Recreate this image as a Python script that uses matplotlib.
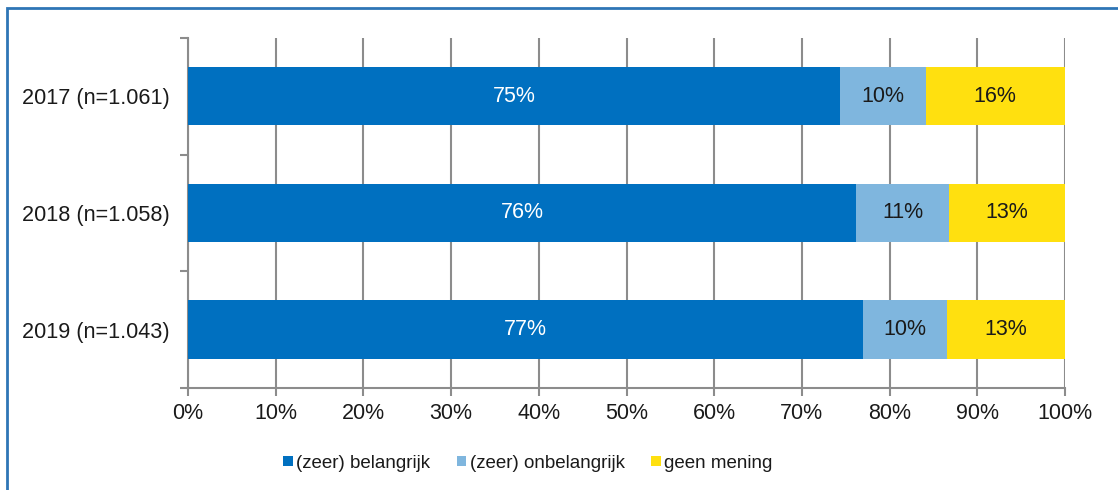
import matplotlib
matplotlib.use("Agg")
import matplotlib.pyplot as plt
from matplotlib.patches import Rectangle
from matplotlib.ticker import MultipleLocator, FixedLocator
import numpy as np

plt.rcParams['font.family'] = ['Liberation Sans', 'DejaVu Sans']

categories = ["2017 (n=1.061)", "2018 (n=1.058)", "2019 (n=1.043)"]
series_names = ["(zeer) belangrijk", "(zeer) onbelangrijk", "geen mening"]
belangrijk = [74.4, 76.2, 77.0]
onbelangrijk = [9.7, 10.6, 9.5]
geen_mening = [15.9, 13.2, 13.5]
labels_belangrijk = ["75%", "76%", "77%"]
labels_onbelangrijk = ["10%", "11%", "10%"]
labels_geen = ["16%", "13%", "13%"]
colors = ["#0070C0", "#7FB6DE", "#FFE00F"]
label_colors = ["white", "#1a1a1a", "#1a1a1a"]

W, H = 1118, 490
fig = plt.figure(figsize=(W / 100, H / 100), dpi=100)
ax = fig.add_axes([188 / W, 1 - 388 / H, (1065 - 188) / W, (388 - 38) / H])

y = np.arange(len(categories))
left = np.zeros(len(categories))
all_vals = [belangrijk, onbelangrijk, geen_mening]
all_labels = [labels_belangrijk, labels_onbelangrijk, labels_geen]
for vals, labs, col, lc, name in zip(all_vals, all_labels, colors, label_colors, series_names):
    bars = ax.barh(y, vals, left=left, height=0.5, color=col, label=name, zorder=3)
    for b, lab in zip(bars, labs):
        ax.text(b.get_x() + b.get_width() / 2, b.get_y() + b.get_height() / 2, lab,
                ha="center", va="center", color=lc, fontsize=15.5, zorder=4)
    left = left + np.array(vals)

ax.set_xlim(0, 100)
ax.set_ylim(2.5, -0.5)
ax.xaxis.set_major_locator(MultipleLocator(10))
ax.set_xticklabels([f"{int(v)}%" for v in ax.get_xticks()])
ax.set_yticks(y)
ax.set_yticklabels(categories)
ax.yaxis.set_minor_locator(FixedLocator([-0.5, 0.5, 1.5, 2.5]))
ax.tick_params(axis="y", which="major", length=0, pad=13, labelsize=15.6, colors="#1a1a1a")
ax.tick_params(axis="y", which="minor", length=6, width=1.5, color="#8c8c8c")
ax.tick_params(axis="x", which="major", length=6, width=1.5, color="#8c8c8c",
               labelsize=15.5, labelcolor="#1a1a1a", pad=5)
ax.grid(axis="x", color="#8c8c8c", linewidth=1.5, zorder=0)
for s in ["top", "right"]:
    ax.spines[s].set_visible(False)
for s in ["left", "bottom"]:
    ax.spines[s].set_color("#8c8c8c")
    ax.spines[s].set_linewidth(1.5)

leg = fig.legend(loc="center", bbox_to_anchor=(528 / W, 1 - 463 / H), ncol=3, frameon=False,
                 fontsize=13.5, handlelength=0.5, handleheight=0.5, handletextpad=0.2,
                 columnspacing=1.4)
for t in leg.get_texts():
    t.set_color("#1a1a1a")

# outer frame
fig.patches.append(Rectangle((7 / W, -0.1), 1.2, 1 - 8 / H + 0.1, transform=fig.transFigure,
                             fill=False, edgecolor="#2E75B6", linewidth=2, zorder=10))

fig.savefig("out.png", dpi=100)
